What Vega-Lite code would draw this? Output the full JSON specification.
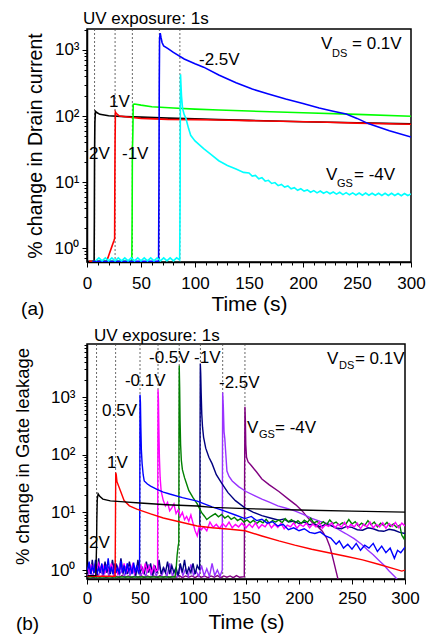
{
"$schema": "https://vega.github.io/schema/vega-lite/v6.json",
"padding": {"left": 12, "top": 8, "right": 0, "bottom": 0},
"config": {
  "font": "Liberation Sans",
  "view": {"stroke": "black", "strokeWidth": 1.5},
  "axis": {"grid": false, "domainColor": "black", "domainWidth": 1.5, "tickColor": "black", "tickWidth": 1, "labelColor": "black", "titleColor": "black", "titleFontWeight": "normal", "labelFont": "Liberation Sans", "titleFont": "Liberation Sans", "labelFontSize": 17, "labelOverlap": false, "labelFlush": false},
  "title": {"fontWeight": "normal", "fontSize": 17, "color": "black", "font": "Liberation Sans"}
},
"datasets": {
  "va": [{"t":7},{"t":26},{"t":42},{"t":67},{"t":86}],
  "vb": [{"t":9},{"t":27},{"t":50},{"t":67},{"t":87},{"t":107},{"t":128},{"t":149}],
  "ta": [
    {"t":103.7,"v":593,"label":"-2.5V"},
    {"t":20.4,"v":137,"label":"1V"},
    {"t":1.9,"v":22.3,"label":"2V"},
    {"t":32.4,"v":22.3,"label":"-1V"},
    {"t":216.7,"v":1035,"label":"V"},
    {"t":245.4,"v":1035,"label":"= 0.1V"},
    {"t":221.3,"v":10.7,"label":"V"},
    {"t":247.2,"v":10.7,"label":"= -4V"}
  ],
  "sa": [
    {"t":226.9,"v":783,"label":"DS"},
    {"t":231.5,"v":8.4,"label":"GS"}
  ],
  "pa": [{"t":-61,"v":0.0966,"label":"(a)"}],
  "tb": [
    {"t":124.5,"v":1432,"label":"-2.5V"},
    {"t":58.5,"v":3884,"label":"-0.5V"},
    {"t":101,"v":3884,"label":"-1V"},
    {"t":35.8,"v":1550,"label":"-0.1V"},
    {"t":14.2,"v":469,"label":"0.5V"},
    {"t":18.9,"v":58.7,"label":"1V"},
    {"t":1.9,"v":2.41,"label":"2V"},
    {"t":226.4,"v":3735,"label":"V"},
    {"t":252.8,"v":3735,"label":"= 0.1V"},
    {"t":151,"v":238,"label":"V"},
    {"t":177.4,"v":238,"label":"= -4V"}
  ],
  "sb": [
    {"t":237.7,"v":3055,"label":"DS"},
    {"t":162.3,"v":194.5,"label":"GS"}
  ],
  "pb": [{"t":-67,"v":0.091,"label":"(b)"}],
  "la": [
    {"s":"a_k","t":0.5,"v":0.63},{"s":"a_k","t":6.3,"v":0.63},{"s":"a_k","t":6.6,"v":0.66},{"s":"a_k","t":6.8,"v":2.5},{"s":"a_k","t":7,"v":25},{"s":"a_k","t":7.3,"v":80},{"s":"a_k","t":7.8,"v":118},{"s":"a_k","t":9,"v":113},{"s":"a_k","t":12,"v":106},{"s":"a_k","t":20,"v":101},{"s":"a_k","t":35,"v":98},{"s":"a_k","t":50,"v":96},{"s":"a_k","t":75,"v":93},{"s":"a_k","t":100,"v":91},{"s":"a_k","t":122,"v":88},{"s":"a_k","t":150,"v":86},{"s":"a_k","t":200,"v":82},{"s":"a_k","t":250,"v":79},{"s":"a_k","t":300,"v":76},
    {"s":"a_r","t":2,"v":0.63},{"s":"a_r","t":18,"v":0.63},{"s":"a_r","t":19.5,"v":0.72},{"s":"a_r","t":21,"v":0.85},{"s":"a_r","t":23,"v":1.05},{"s":"a_r","t":25,"v":1.3},{"s":"a_r","t":25.6,"v":1.4},{"s":"a_r","t":25.8,"v":12},{"s":"a_r","t":26,"v":40},{"s":"a_r","t":26.3,"v":115},{"s":"a_r","t":27,"v":110},{"s":"a_r","t":30,"v":100},{"s":"a_r","t":40,"v":96},{"s":"a_r","t":50,"v":92},{"s":"a_r","t":75,"v":89},{"s":"a_r","t":100,"v":88},{"s":"a_r","t":122,"v":87},{"s":"a_r","t":150,"v":85},{"s":"a_r","t":215,"v":81},{"s":"a_r","t":250,"v":78},{"s":"a_r","t":300,"v":75},
    {"s":"a_g","t":5,"v":0.63},{"s":"a_g","t":41.5,"v":0.63},{"s":"a_g","t":41.8,"v":3},{"s":"a_g","t":42,"v":30},{"s":"a_g","t":42.3,"v":42},{"s":"a_g","t":42.5,"v":60},{"s":"a_g","t":42.8,"v":150},{"s":"a_g","t":44,"v":152},{"s":"a_g","t":50,"v":146},{"s":"a_g","t":60,"v":138},{"s":"a_g","t":80,"v":132},{"s":"a_g","t":100,"v":127},{"s":"a_g","t":122,"v":123},{"s":"a_g","t":150,"v":119},{"s":"a_g","t":200,"v":112},{"s":"a_g","t":250,"v":106},{"s":"a_g","t":300,"v":99},
    {"s":"a_b","t":5,"v":0.63},{"s":"a_b","t":66.3,"v":0.63},{"s":"a_b","t":66.6,"v":8},{"s":"a_b","t":66.9,"v":300},{"s":"a_b","t":67.2,"v":1500},{"s":"a_b","t":67.8,"v":1800},{"s":"a_b","t":68.5,"v":1550},{"s":"a_b","t":69.5,"v":1300},{"s":"a_b","t":71,"v":1150},{"s":"a_b","t":75,"v":1050},{"s":"a_b","t":80,"v":920},{"s":"a_b","t":90,"v":730},{"s":"a_b","t":100,"v":620},{"s":"a_b","t":108,"v":550},{"s":"a_b","t":122,"v":418},{"s":"a_b","t":138,"v":320},{"s":"a_b","t":153,"v":256},{"s":"a_b","t":168,"v":215},{"s":"a_b","t":184,"v":181},{"s":"a_b","t":200,"v":155},{"s":"a_b","t":215,"v":132},{"s":"a_b","t":228,"v":118},{"s":"a_b","t":240,"v":107},{"s":"a_b","t":250,"v":92},{"s":"a_b","t":261,"v":76},{"s":"a_b","t":280,"v":60},{"s":"a_b","t":300,"v":48},
    {"s":"a_c","t":8,"v":0.64},{"s":"a_c","t":11,"v":0.71},{"s":"a_c","t":14,"v":0.64},{"s":"a_c","t":17,"v":0.71},{"s":"a_c","t":20,"v":0.64},{"s":"a_c","t":23,"v":0.71},{"s":"a_c","t":26,"v":0.64},{"s":"a_c","t":29,"v":0.71},{"s":"a_c","t":32,"v":0.64},{"s":"a_c","t":35,"v":0.71},{"s":"a_c","t":38,"v":0.64},{"s":"a_c","t":41,"v":0.71},{"s":"a_c","t":44,"v":0.64},{"s":"a_c","t":47,"v":0.71},{"s":"a_c","t":50,"v":0.64},{"s":"a_c","t":53,"v":0.71},{"s":"a_c","t":56,"v":0.64},{"s":"a_c","t":59,"v":0.71},{"s":"a_c","t":62,"v":0.64},{"s":"a_c","t":65,"v":0.71},{"s":"a_c","t":68,"v":0.64},{"s":"a_c","t":71,"v":0.71},{"s":"a_c","t":74,"v":0.64},{"s":"a_c","t":77,"v":0.71},{"s":"a_c","t":80,"v":0.64},{"s":"a_c","t":83,"v":0.71},{"s":"a_c","t":85.8,"v":0.66},
    {"s":"a_c","t":86.2,"v":5},{"s":"a_c","t":86.4,"v":100},{"s":"a_c","t":86.6,"v":430},{"s":"a_c","t":87,"v":300},{"s":"a_c","t":87.5,"v":200},{"s":"a_c","t":88.5,"v":130},{"s":"a_c","t":90,"v":105},{"s":"a_c","t":91.5,"v":93},{"s":"a_c","t":94,"v":65},{"s":"a_c","t":96,"v":51},{"s":"a_c","t":100,"v":42},{"s":"a_c","t":108,"v":32},{"s":"a_c","t":115,"v":26},{"s":"a_c","t":122,"v":21},{"s":"a_c","t":130,"v":17.8},{"s":"a_c","t":138,"v":15.7},{"s":"a_c","t":145,"v":14},{"s":"a_c","t":150,"v":13.7},{"s":"a_c","t":153,"v":12.3},{"s":"a_c","t":156,"v":12.6},{"s":"a_c","t":159,"v":11.2},{"s":"a_c","t":162,"v":11.6},{"s":"a_c","t":165,"v":10.3},{"s":"a_c","t":168,"v":10.6},{"s":"a_c","t":171,"v":9.5},{"s":"a_c","t":174,"v":9.8},{"s":"a_c","t":177,"v":8.8},{"s":"a_c","t":180,"v":9.2},{"s":"a_c","t":183,"v":8.4},{"s":"a_c","t":186,"v":8.7},{"s":"a_c","t":189,"v":7.9},{"s":"a_c","t":192,"v":8.2},{"s":"a_c","t":195,"v":7.5},{"s":"a_c","t":198,"v":7.9},{"s":"a_c","t":201,"v":7.3},{"s":"a_c","t":204,"v":7.6},{"s":"a_c","t":207,"v":7.0},{"s":"a_c","t":210,"v":7.4},{"s":"a_c","t":213,"v":6.85},{"s":"a_c","t":216,"v":7.3},{"s":"a_c","t":219,"v":6.75},{"s":"a_c","t":222,"v":7.15},{"s":"a_c","t":225,"v":6.65},{"s":"a_c","t":228,"v":7.05},{"s":"a_c","t":231,"v":6.55},{"s":"a_c","t":234,"v":7.0},{"s":"a_c","t":237,"v":6.45},{"s":"a_c","t":240,"v":6.9},{"s":"a_c","t":243,"v":6.4},{"s":"a_c","t":246,"v":6.85},{"s":"a_c","t":249,"v":6.35},{"s":"a_c","t":252,"v":6.8},{"s":"a_c","t":255,"v":6.3},{"s":"a_c","t":258,"v":6.8},{"s":"a_c","t":261,"v":6.3},{"s":"a_c","t":264,"v":6.75},{"s":"a_c","t":267,"v":6.3},{"s":"a_c","t":270,"v":6.75},{"s":"a_c","t":273,"v":6.25},{"s":"a_c","t":276,"v":6.75},{"s":"a_c","t":279,"v":6.25},{"s":"a_c","t":282,"v":6.75},{"s":"a_c","t":285,"v":6.25},{"s":"a_c","t":288,"v":6.7},{"s":"a_c","t":291,"v":6.2},{"s":"a_c","t":294,"v":6.7},{"s":"a_c","t":297,"v":6.25},{"s":"a_c","t":300,"v":6.6}
  ],
  "lb": [
    {"s":"b_d","t":0.5,"v":0.75},{"s":"b_d","t":3,"v":0.79},{"s":"b_d","t":6,"v":0.74},{"s":"b_d","t":9,"v":0.79},{"s":"b_d","t":12,"v":0.75},{"s":"b_d","t":15,"v":0.8},{"s":"b_d","t":18,"v":0.74},{"s":"b_d","t":21,"v":0.79},{"s":"b_d","t":24,"v":0.75},{"s":"b_d","t":27,"v":0.79},{"s":"b_d","t":30,"v":0.74},{"s":"b_d","t":33,"v":0.8},{"s":"b_d","t":36,"v":0.75},{"s":"b_d","t":39,"v":0.79},{"s":"b_d","t":42,"v":0.74},{"s":"b_d","t":45,"v":0.79},{"s":"b_d","t":48,"v":0.75},{"s":"b_d","t":51,"v":0.8},{"s":"b_d","t":54,"v":0.74},{"s":"b_d","t":57,"v":0.79},{"s":"b_d","t":60,"v":0.75},{"s":"b_d","t":63,"v":0.79},{"s":"b_d","t":66,"v":0.74},{"s":"b_d","t":69,"v":0.8},{"s":"b_d","t":72,"v":0.75},{"s":"b_d","t":75,"v":0.79},{"s":"b_d","t":78,"v":0.74},{"s":"b_d","t":81,"v":0.79},{"s":"b_d","t":84,"v":0.75},{"s":"b_d","t":87,"v":0.8},{"s":"b_d","t":90,"v":0.74},{"s":"b_d","t":93,"v":0.79},{"s":"b_d","t":96,"v":0.75},{"s":"b_d","t":99,"v":0.79},{"s":"b_d","t":102,"v":0.74},{"s":"b_d","t":105,"v":0.8},{"s":"b_d","t":108,"v":0.75},{"s":"b_d","t":111,"v":0.79},{"s":"b_d","t":114,"v":0.74},{"s":"b_d","t":117,"v":0.79},{"s":"b_d","t":120,"v":0.75},{"s":"b_d","t":123,"v":0.8},{"s":"b_d","t":126,"v":0.74},{"s":"b_d","t":129,"v":0.79},{"s":"b_d","t":132,"v":0.75},{"s":"b_d","t":135,"v":0.79},{"s":"b_d","t":138,"v":0.74},{"s":"b_d","t":141,"v":0.8},{"s":"b_d","t":144,"v":0.75},{"s":"b_d","t":148.4,"v":0.77},
    {"s":"b_d","t":148.7,"v":50},{"s":"b_d","t":149,"v":680},{"s":"b_d","t":149.4,"v":400},{"s":"b_d","t":149.8,"v":150},{"s":"b_d","t":150.5,"v":90},{"s":"b_d","t":152,"v":75},{"s":"b_d","t":155,"v":65},{"s":"b_d","t":160,"v":50},{"s":"b_d","t":165,"v":38},{"s":"b_d","t":172,"v":30},{"s":"b_d","t":181,"v":23},{"s":"b_d","t":190,"v":17},{"s":"b_d","t":197,"v":13.5},{"s":"b_d","t":203,"v":10.6},{"s":"b_d","t":208,"v":8.2},{"s":"b_d","t":213,"v":6.5},{"s":"b_d","t":218,"v":5.6},{"s":"b_d","t":222,"v":4.7},{"s":"b_d","t":226,"v":3.6},{"s":"b_d","t":229,"v":2.6},{"s":"b_d","t":231,"v":1.9},{"s":"b_d","t":233,"v":1.35},{"s":"b_d","t":235,"v":0.95},{"s":"b_d","t":236.5,"v":0.73},{"s":"b_d","t":237.5,"v":0.6},
    {"s":"b_p","t":0.5,"v":0.8},{"s":"b_p","t":3,"v":1.0},{"s":"b_p","t":5.5,"v":0.78},{"s":"b_p","t":8,"v":1.15},{"s":"b_p","t":10.5,"v":0.8},{"s":"b_p","t":13,"v":0.95},{"s":"b_p","t":15.5,"v":0.78},{"s":"b_p","t":18,"v":1.25},{"s":"b_p","t":20.5,"v":0.8},{"s":"b_p","t":23,"v":1.05},{"s":"b_p","t":25.5,"v":0.78},{"s":"b_p","t":28,"v":1.2},{"s":"b_p","t":30.5,"v":0.82},{"s":"b_p","t":33,"v":1.0},{"s":"b_p","t":35.5,"v":0.78},{"s":"b_p","t":38,"v":1.3},{"s":"b_p","t":40.5,"v":0.8},{"s":"b_p","t":43,"v":1.05},{"s":"b_p","t":45.5,"v":0.78},{"s":"b_p","t":48,"v":1.15},{"s":"b_p","t":50.5,"v":0.8},{"s":"b_p","t":53,"v":0.95},{"s":"b_p","t":55.5,"v":0.78},{"s":"b_p","t":58,"v":1.25},{"s":"b_p","t":60.5,"v":0.82},{"s":"b_p","t":63,"v":1.0},{"s":"b_p","t":65.5,"v":0.78},{"s":"b_p","t":68,"v":1.2},{"s":"b_p","t":70.5,"v":0.8},{"s":"b_p","t":73,"v":1.05},{"s":"b_p","t":75.5,"v":0.78},{"s":"b_p","t":78,"v":1.3},{"s":"b_p","t":80.5,"v":0.8},{"s":"b_p","t":83,"v":1.0},{"s":"b_p","t":85.5,"v":0.78},{"s":"b_p","t":88,"v":1.15},{"s":"b_p","t":90.5,"v":0.8},{"s":"b_p","t":93,"v":1.05},{"s":"b_p","t":95.5,"v":0.78},{"s":"b_p","t":98,"v":1.25},{"s":"b_p","t":100.5,"v":0.82},{"s":"b_p","t":103,"v":0.95},{"s":"b_p","t":105.5,"v":0.78},{"s":"b_p","t":108,"v":1.2},{"s":"b_p","t":110.5,"v":0.8},{"s":"b_p","t":113,"v":1.05},{"s":"b_p","t":115.5,"v":0.78},{"s":"b_p","t":118,"v":1.3},{"s":"b_p","t":120.5,"v":0.8},{"s":"b_p","t":123,"v":1.0},{"s":"b_p","t":125.5,"v":0.78},{"s":"b_p","t":127.6,"v":1.0},
    {"s":"b_p","t":127.8,"v":100},{"s":"b_p","t":128,"v":1200},{"s":"b_p","t":128.6,"v":700},{"s":"b_p","t":129.3,"v":250},{"s":"b_p","t":130,"v":190},{"s":"b_p","t":131,"v":100},{"s":"b_p","t":132,"v":52},{"s":"b_p","t":134,"v":42},{"s":"b_p","t":137,"v":35},{"s":"b_p","t":143,"v":28},{"s":"b_p","t":150,"v":23},{"s":"b_p","t":158,"v":19.5},{"s":"b_p","t":165,"v":17},{"s":"b_p","t":172,"v":15},{"s":"b_p","t":180,"v":13},{"s":"b_p","t":188,"v":11.8},{"s":"b_p","t":196,"v":10.6},{"s":"b_p","t":204,"v":9.2},{"s":"b_p","t":212,"v":7.9},{"s":"b_p","t":220,"v":7},{"s":"b_p","t":228,"v":6.3},{"s":"b_p","t":236,"v":5.2},{"s":"b_p","t":244,"v":4.3},{"s":"b_p","t":252,"v":3.5},{"s":"b_p","t":259,"v":2.8},{"s":"b_p","t":265,"v":2.2},{"s":"b_p","t":270,"v":1.85},{"s":"b_p","t":275,"v":1.5},{"s":"b_p","t":280,"v":1.22},{"s":"b_p","t":285,"v":0.96},{"s":"b_p","t":290,"v":0.78},{"s":"b_p","t":293,"v":0.68},
    {"s":"b_n","t":0.5,"v":0.9},{"s":"b_n","t":2,"v":1.3},{"s":"b_n","t":3.5,"v":0.85},{"s":"b_n","t":5,"v":1.5},{"s":"b_n","t":6.5,"v":0.9},{"s":"b_n","t":8,"v":1.1},{"s":"b_n","t":9.5,"v":0.8},{"s":"b_n","t":11,"v":1.6},{"s":"b_n","t":12.5,"v":0.9},{"s":"b_n","t":14,"v":1.2},{"s":"b_n","t":15.5,"v":0.85},{"s":"b_n","t":17,"v":1.4},{"s":"b_n","t":18.5,"v":0.9},{"s":"b_n","t":20,"v":1.1},{"s":"b_n","t":22,"v":0.85},{"s":"b_n","t":24,"v":1.5},{"s":"b_n","t":26,"v":0.9},{"s":"b_n","t":28,"v":1.2},{"s":"b_n","t":30,"v":0.85},{"s":"b_n","t":32,"v":1.6},{"s":"b_n","t":34,"v":0.9},{"s":"b_n","t":36,"v":1.1},{"s":"b_n","t":38,"v":0.85},{"s":"b_n","t":40,"v":1.4},{"s":"b_n","t":42,"v":0.9},{"s":"b_n","t":44,"v":1.2},{"s":"b_n","t":46,"v":0.8},{"s":"b_n","t":48,"v":1.5},{"s":"b_n","t":50,"v":0.9},{"s":"b_n","t":52,"v":1.1},{"s":"b_n","t":54,"v":0.85},{"s":"b_n","t":56,"v":1.4},{"s":"b_n","t":58,"v":0.9},{"s":"b_n","t":60,"v":1.3},{"s":"b_n","t":62,"v":0.8},{"s":"b_n","t":64,"v":1.2},{"s":"b_n","t":66,"v":0.9},{"s":"b_n","t":68,"v":1.5},{"s":"b_n","t":70,"v":0.85},{"s":"b_n","t":72,"v":1.1},{"s":"b_n","t":74,"v":0.9},{"s":"b_n","t":76,"v":1.4},{"s":"b_n","t":78,"v":0.85},{"s":"b_n","t":80,"v":1.2},{"s":"b_n","t":82,"v":0.9},{"s":"b_n","t":84,"v":1.1},{"s":"b_n","t":86,"v":0.8},{"s":"b_n","t":88,"v":1.3},{"s":"b_n","t":90,"v":0.9},{"s":"b_n","t":92,"v":1.5},{"s":"b_n","t":94,"v":0.85},{"s":"b_n","t":96,"v":1.1},{"s":"b_n","t":98,"v":0.9},{"s":"b_n","t":100,"v":1.3},{"s":"b_n","t":102,"v":0.85},{"s":"b_n","t":104,"v":1.2},{"s":"b_n","t":106.3,"v":1.0},
    {"s":"b_n","t":106.6,"v":100},{"s":"b_n","t":106.9,"v":3800},{"s":"b_n","t":107.3,"v":2500},{"s":"b_n","t":107.7,"v":1200},{"s":"b_n","t":108.3,"v":500},{"s":"b_n","t":109,"v":300},{"s":"b_n","t":110,"v":200},{"s":"b_n","t":112,"v":130},{"s":"b_n","t":115,"v":90},{"s":"b_n","t":118,"v":70},{"s":"b_n","t":122,"v":45},{"s":"b_n","t":127,"v":32},{"s":"b_n","t":133,"v":22},{"s":"b_n","t":140,"v":16},{"s":"b_n","t":149,"v":12},{"s":"b_n","t":157,"v":10},{"s":"b_n","t":165,"v":8.8},{"s":"b_n","t":173,"v":8},{"s":"b_n","t":181,"v":7.3},{"s":"b_n","t":186,"v":7.7},{"s":"b_n","t":190,"v":6.8},{"s":"b_n","t":195,"v":7.1},{"s":"b_n","t":200,"v":6.4},{"s":"b_n","t":205,"v":6.8},{"s":"b_n","t":210,"v":6.1},{"s":"b_n","t":215,"v":6.3},{"s":"b_n","t":220,"v":5.6},{"s":"b_n","t":225,"v":6.2},{"s":"b_n","t":230,"v":5.9},{"s":"b_n","t":235,"v":5.4},{"s":"b_n","t":240,"v":5.2},{"s":"b_n","t":245,"v":5.7},{"s":"b_n","t":250,"v":5.5},{"s":"b_n","t":255,"v":5.0},{"s":"b_n","t":260,"v":4.9},{"s":"b_n","t":265,"v":5.4},{"s":"b_n","t":270,"v":5.2},{"s":"b_n","t":275,"v":4.8},{"s":"b_n","t":280,"v":4.7},{"s":"b_n","t":285,"v":5.1},{"s":"b_n","t":290,"v":4.9},{"s":"b_n","t":295,"v":4.5},{"s":"b_n","t":300,"v":4.3},
    {"s":"b_g","t":0.5,"v":0.76},{"s":"b_g","t":83,"v":0.76},{"s":"b_g","t":84,"v":1.0},{"s":"b_g","t":85,"v":1.8},{"s":"b_g","t":86,"v":2.6},{"s":"b_g","t":86.6,"v":3.0},{"s":"b_g","t":86.8,"v":300},{"s":"b_g","t":87,"v":3500},{"s":"b_g","t":87.4,"v":1500},{"s":"b_g","t":87.8,"v":400},{"s":"b_g","t":88.3,"v":150},{"s":"b_g","t":89,"v":80},{"s":"b_g","t":90,"v":55},{"s":"b_g","t":92,"v":40},{"s":"b_g","t":94,"v":31},{"s":"b_g","t":96,"v":24},{"s":"b_g","t":100,"v":18},{"s":"b_g","t":104,"v":14},{"s":"b_g","t":108,"v":10},{"s":"b_g","t":111,"v":8.5},{"s":"b_g","t":113,"v":7.5},{"s":"b_g","t":116,"v":8.3},{"s":"b_g","t":118,"v":8.8},{"s":"b_g","t":121,"v":9.5},{"s":"b_g","t":124,"v":8.4},{"s":"b_g","t":127,"v":9.2},{"s":"b_g","t":130,"v":8},{"s":"b_g","t":133,"v":8.7},{"s":"b_g","t":136,"v":7.6},{"s":"b_g","t":139,"v":8.2},{"s":"b_g","t":142,"v":7.2},{"s":"b_g","t":145,"v":7.8},{"s":"b_g","t":148,"v":6.8},{"s":"b_g","t":151,"v":7.4},{"s":"b_g","t":154,"v":6.6},{"s":"b_g","t":157,"v":7.3},{"s":"b_g","t":160,"v":6.4},{"s":"b_g","t":163,"v":7.1},{"s":"b_g","t":166,"v":6.6},{"s":"b_g","t":169,"v":7.6},{"s":"b_g","t":172,"v":6.5},{"s":"b_g","t":175,"v":7.2},{"s":"b_g","t":178,"v":6.8},{"s":"b_g","t":181,"v":7.4},{"s":"b_g","t":184,"v":6.6},{"s":"b_g","t":187,"v":7.8},{"s":"b_g","t":190,"v":6.9},{"s":"b_g","t":193,"v":7.5},{"s":"b_g","t":196,"v":6.5},{"s":"b_g","t":199,"v":7.2},{"s":"b_g","t":202,"v":6.4},{"s":"b_g","t":205,"v":7.3},{"s":"b_g","t":208,"v":6.7},{"s":"b_g","t":211,"v":7.9},{"s":"b_g","t":214,"v":6.6},{"s":"b_g","t":217,"v":7.0},{"s":"b_g","t":220,"v":6.2},{"s":"b_g","t":223,"v":6.9},{"s":"b_g","t":226,"v":6.1},{"s":"b_g","t":229,"v":7.4},{"s":"b_g","t":232,"v":6.4},{"s":"b_g","t":235,"v":6.8},{"s":"b_g","t":238,"v":6.0},{"s":"b_g","t":241,"v":6.6},{"s":"b_g","t":244,"v":6.2},{"s":"b_g","t":247,"v":7.5},{"s":"b_g","t":250,"v":6.3},{"s":"b_g","t":253,"v":6.9},{"s":"b_g","t":256,"v":5.8},{"s":"b_g","t":259,"v":6.5},{"s":"b_g","t":262,"v":5.9},{"s":"b_g","t":265,"v":7.2},{"s":"b_g","t":268,"v":6.1},{"s":"b_g","t":271,"v":6.8},{"s":"b_g","t":274,"v":5.6},{"s":"b_g","t":277,"v":6.5},{"s":"b_g","t":280,"v":5.9},{"s":"b_g","t":283,"v":6.7},{"s":"b_g","t":286,"v":5.7},{"s":"b_g","t":289,"v":6.3},{"s":"b_g","t":292,"v":5.5},{"s":"b_g","t":295,"v":6.0},{"s":"b_g","t":297,"v":4.0},{"s":"b_g","t":299,"v":3.5},{"s":"b_g","t":300,"v":4.2},
    {"s":"b_m","t":0.5,"v":1.1},{"s":"b_m","t":2.5,"v":0.9},{"s":"b_m","t":4,"v":1.25},{"s":"b_m","t":5.5,"v":0.95},{"s":"b_m","t":7,"v":1.2},{"s":"b_m","t":9,"v":0.9},{"s":"b_m","t":11,"v":1.3},{"s":"b_m","t":13,"v":1.0},{"s":"b_m","t":15,"v":1.2},{"s":"b_m","t":17,"v":0.9},{"s":"b_m","t":19,"v":1.15},{"s":"b_m","t":21,"v":0.95},{"s":"b_m","t":23,"v":1.3},{"s":"b_m","t":25,"v":0.9},{"s":"b_m","t":27,"v":1.1},{"s":"b_m","t":29,"v":0.85},{"s":"b_m","t":31,"v":1.2},{"s":"b_m","t":33,"v":0.95},{"s":"b_m","t":35,"v":1.3},{"s":"b_m","t":37,"v":0.9},{"s":"b_m","t":39,"v":1.1},{"s":"b_m","t":41,"v":0.95},{"s":"b_m","t":43,"v":1.25},{"s":"b_m","t":45,"v":0.9},{"s":"b_m","t":47,"v":1.15},{"s":"b_m","t":49,"v":0.95},{"s":"b_m","t":51,"v":1.2},{"s":"b_m","t":53,"v":0.9},{"s":"b_m","t":55,"v":1.3},{"s":"b_m","t":57,"v":0.95},{"s":"b_m","t":59,"v":1.15},{"s":"b_m","t":61,"v":0.9},{"s":"b_m","t":63,"v":1.2},{"s":"b_m","t":65,"v":0.95},{"s":"b_m","t":66.6,"v":1.0},
    {"s":"b_m","t":66.8,"v":50},{"s":"b_m","t":67,"v":1350},{"s":"b_m","t":67.4,"v":900},{"s":"b_m","t":67.8,"v":300},{"s":"b_m","t":68.3,"v":90},{"s":"b_m","t":69,"v":40},{"s":"b_m","t":70,"v":23},{"s":"b_m","t":72,"v":16},{"s":"b_m","t":74,"v":13},{"s":"b_m","t":76,"v":15},{"s":"b_m","t":78,"v":10.6},{"s":"b_m","t":80,"v":12},{"s":"b_m","t":82,"v":14},{"s":"b_m","t":84,"v":9.5},{"s":"b_m","t":86,"v":11},{"s":"b_m","t":88,"v":8.5},{"s":"b_m","t":90,"v":10},{"s":"b_m","t":92,"v":7.5},{"s":"b_m","t":94,"v":8.5},{"s":"b_m","t":96,"v":7},{"s":"b_m","t":98,"v":9},{"s":"b_m","t":100,"v":6.5},{"s":"b_m","t":102,"v":4.8},{"s":"b_m","t":104,"v":3.9},{"s":"b_m","t":106,"v":5.8},{"s":"b_m","t":108,"v":5},{"s":"b_m","t":110,"v":5.6},{"s":"b_m","t":113,"v":4.8},{"s":"b_m","t":116,"v":6.8},{"s":"b_m","t":119,"v":5.5},{"s":"b_m","t":122,"v":6.2},{"s":"b_m","t":125,"v":5.3},{"s":"b_m","t":128,"v":6.4},{"s":"b_m","t":131,"v":5.6},{"s":"b_m","t":134,"v":6.8},{"s":"b_m","t":137,"v":5.4},{"s":"b_m","t":140,"v":6.2},{"s":"b_m","t":143,"v":5.6},{"s":"b_m","t":146,"v":6.5},{"s":"b_m","t":150,"v":5.4},{"s":"b_m","t":153,"v":6.3},{"s":"b_m","t":156,"v":5.5},{"s":"b_m","t":159,"v":6.6},{"s":"b_m","t":162,"v":5.3},{"s":"b_m","t":165,"v":6.1},{"s":"b_m","t":168,"v":5.6},{"s":"b_m","t":171,"v":6.7},{"s":"b_m","t":174,"v":5.4},{"s":"b_m","t":177,"v":6.2},{"s":"b_m","t":180,"v":5.5},{"s":"b_m","t":183,"v":6.5},{"s":"b_m","t":186,"v":5.2},{"s":"b_m","t":189,"v":6.0},{"s":"b_m","t":192,"v":5.6},{"s":"b_m","t":195,"v":6.6},{"s":"b_m","t":198,"v":5.3},{"s":"b_m","t":201,"v":6.2},{"s":"b_m","t":204,"v":5.7},{"s":"b_m","t":207,"v":6.5},{"s":"b_m","t":210,"v":5.4},{"s":"b_m","t":213,"v":6.3},{"s":"b_m","t":216,"v":5.6},{"s":"b_m","t":219,"v":6.8},{"s":"b_m","t":222,"v":5.3},{"s":"b_m","t":225,"v":6.1},{"s":"b_m","t":228,"v":5.7},{"s":"b_m","t":231,"v":6.6},{"s":"b_m","t":234,"v":5.4},{"s":"b_m","t":237,"v":6.3},{"s":"b_m","t":240,"v":5.5},{"s":"b_m","t":243,"v":6.7},{"s":"b_m","t":246,"v":5.3},{"s":"b_m","t":249,"v":6.2},{"s":"b_m","t":252,"v":5.6},{"s":"b_m","t":255,"v":6.5},{"s":"b_m","t":258,"v":5.2},{"s":"b_m","t":261,"v":6.3},{"s":"b_m","t":264,"v":5.6},{"s":"b_m","t":267,"v":6.8},{"s":"b_m","t":270,"v":5.4},{"s":"b_m","t":273,"v":6.2},{"s":"b_m","t":276,"v":5.6},{"s":"b_m","t":279,"v":6.6},{"s":"b_m","t":282,"v":5.3},{"s":"b_m","t":285,"v":6.4},{"s":"b_m","t":288,"v":5.7},{"s":"b_m","t":291,"v":6.7},{"s":"b_m","t":294,"v":5.4},{"s":"b_m","t":297,"v":6.5},{"s":"b_m","t":300,"v":5.8},
    {"s":"b_b","t":0.5,"v":1.0},{"s":"b_b","t":2,"v":1.4},{"s":"b_b","t":3.5,"v":0.85},{"s":"b_b","t":5,"v":1.2},{"s":"b_b","t":6.5,"v":0.9},{"s":"b_b","t":8,"v":1.5},{"s":"b_b","t":9.5,"v":0.85},{"s":"b_b","t":11,"v":1.1},{"s":"b_b","t":12.5,"v":0.9},{"s":"b_b","t":14,"v":1.3},{"s":"b_b","t":15.5,"v":0.85},{"s":"b_b","t":17,"v":1.2},{"s":"b_b","t":18.5,"v":0.95},{"s":"b_b","t":20,"v":1.6},{"s":"b_b","t":21.5,"v":0.9},{"s":"b_b","t":23,"v":1.15},{"s":"b_b","t":24.5,"v":0.85},{"s":"b_b","t":26,"v":1.3},{"s":"b_b","t":27.5,"v":0.9},{"s":"b_b","t":29,"v":1.1},{"s":"b_b","t":30.5,"v":0.85},{"s":"b_b","t":32,"v":1.45},{"s":"b_b","t":33.5,"v":0.9},{"s":"b_b","t":35,"v":1.2},{"s":"b_b","t":36.5,"v":0.85},{"s":"b_b","t":38,"v":1.3},{"s":"b_b","t":39.5,"v":0.95},{"s":"b_b","t":41,"v":1.15},{"s":"b_b","t":42.5,"v":0.85},{"s":"b_b","t":44,"v":1.35},{"s":"b_b","t":45.5,"v":0.9},{"s":"b_b","t":47,"v":1.2},{"s":"b_b","t":48.5,"v":0.9},{"s":"b_b","t":49.6,"v":1.0},
    {"s":"b_b","t":49.8,"v":20},{"s":"b_b","t":50,"v":1100},{"s":"b_b","t":50.4,"v":800},{"s":"b_b","t":50.8,"v":300},{"s":"b_b","t":51.3,"v":120},{"s":"b_b","t":52,"v":70},{"s":"b_b","t":53,"v":45},{"s":"b_b","t":54,"v":35},{"s":"b_b","t":57,"v":31},{"s":"b_b","t":60,"v":28.6},{"s":"b_b","t":66,"v":25},{"s":"b_b","t":72,"v":22.5},{"s":"b_b","t":78,"v":20.8},{"s":"b_b","t":90,"v":18},{"s":"b_b","t":104,"v":15.7},{"s":"b_b","t":118,"v":12.5},{"s":"b_b","t":130,"v":10.5},{"s":"b_b","t":140,"v":9},{"s":"b_b","t":149,"v":7.8},{"s":"b_b","t":155,"v":8.5},{"s":"b_b","t":160,"v":7.2},{"s":"b_b","t":165,"v":7.6},{"s":"b_b","t":170,"v":6.5},{"s":"b_b","t":175,"v":6.9},{"s":"b_b","t":180,"v":5.8},{"s":"b_b","t":185,"v":6.2},{"s":"b_b","t":190,"v":5},{"s":"b_b","t":195,"v":5.4},{"s":"b_b","t":200,"v":4.8},{"s":"b_b","t":205,"v":5.2},{"s":"b_b","t":210,"v":4.5},{"s":"b_b","t":215,"v":4.3},{"s":"b_b","t":220,"v":4.6},{"s":"b_b","t":225,"v":3.9},{"s":"b_b","t":230,"v":3.6},{"s":"b_b","t":235,"v":2.8},{"s":"b_b","t":238,"v":3.2},{"s":"b_b","t":242,"v":2.4},{"s":"b_b","t":246,"v":2.8},{"s":"b_b","t":250,"v":2.3},{"s":"b_b","t":254,"v":2.9},{"s":"b_b","t":258,"v":2.2},{"s":"b_b","t":262,"v":2.7},{"s":"b_b","t":266,"v":2.4},{"s":"b_b","t":270,"v":2.9},{"s":"b_b","t":274,"v":2.1},{"s":"b_b","t":278,"v":2.6},{"s":"b_b","t":282,"v":2.0},{"s":"b_b","t":286,"v":2.4},{"s":"b_b","t":290,"v":1.6},{"s":"b_b","t":293,"v":2.2},{"s":"b_b","t":296,"v":2.0},{"s":"b_b","t":300,"v":2.5},
    {"s":"b_r","t":0.5,"v":0.78},{"s":"b_r","t":26.5,"v":0.78},{"s":"b_r","t":26.8,"v":5},{"s":"b_r","t":27.1,"v":49},{"s":"b_r","t":27.6,"v":45},{"s":"b_r","t":28.3,"v":34},{"s":"b_r","t":30,"v":28},{"s":"b_r","t":35,"v":16},{"s":"b_r","t":40,"v":13},{"s":"b_r","t":47,"v":11.4},{"s":"b_r","t":60,"v":9.4},{"s":"b_r","t":72,"v":8},{"s":"b_r","t":88,"v":6.8},{"s":"b_r","t":104,"v":5.8},{"s":"b_r","t":118,"v":5.4},{"s":"b_r","t":135,"v":5.1},{"s":"b_r","t":149,"v":4.8},{"s":"b_r","t":165,"v":3.9},{"s":"b_r","t":181,"v":3.2},{"s":"b_r","t":196,"v":2.7},{"s":"b_r","t":212,"v":2.3},{"s":"b_r","t":228,"v":2.0},{"s":"b_r","t":243,"v":1.75},{"s":"b_r","t":260,"v":1.5},{"s":"b_r","t":275,"v":1.26},{"s":"b_r","t":290,"v":1.05},{"s":"b_r","t":297,"v":0.96},{"s":"b_r","t":300,"v":1.0},
    {"s":"b_k","t":0.5,"v":0.8},{"s":"b_k","t":8.3,"v":0.8},{"s":"b_k","t":8.6,"v":1.3},{"s":"b_k","t":9,"v":2.6},{"s":"b_k","t":9.3,"v":8},{"s":"b_k","t":9.7,"v":17},{"s":"b_k","t":10.5,"v":21},{"s":"b_k","t":12,"v":19},{"s":"b_k","t":15,"v":17},{"s":"b_k","t":22,"v":15.8},{"s":"b_k","t":35,"v":15.2},{"s":"b_k","t":50,"v":14.5},{"s":"b_k","t":75,"v":13.6},{"s":"b_k","t":104,"v":12.9},{"s":"b_k","t":118,"v":12.2},{"s":"b_k","t":150,"v":11.6},{"s":"b_k","t":200,"v":11},{"s":"b_k","t":250,"v":10.5},{"s":"b_k","t":300,"v":10.1}
  ]
},
"concat": [
  {
    "width": 324, "height": 233,
    "title": {"text": "UV exposure: 1s", "anchor": "start", "frame": "group", "dx": -4, "offset": -12, "baseline": "alphabetic"},
    "resolve": {"axis": {"x": "independent", "y": "independent"}},
    "layer": [
      {"data": {"name": "va"}, "mark": {"type": "rule", "strokeDash": [2, 2], "color": "#444444", "strokeWidth": 0.8},
       "encoding": {"x": {"field": "t", "type": "quantitative", "scale": {"domain": [0, 300], "nice": false},
         "axis": {"orient": "bottom", "values": [10,20,30,40,60,70,80,90,110,120,130,140,160,170,180,190,210,220,230,240,260,270,280,290], "labels": false, "domain": false, "title": null, "tickSize": 3}}}},
      {"data": {"name": "la"}, "mark": {"type": "line", "clip": true, "strokeWidth": 1.6},
       "encoding": {
         "x": {"field": "t", "type": "quantitative", "title": "Time (s)", "scale": {"domain": [0, 300], "nice": false},
               "axis": {"orient": "bottom", "values": [0,50,100,150,200,250,300], "tickSize": 5, "labelPadding": 8, "titlePadding": 2, "titleFontSize": 21}},
         "y": {"field": "v", "type": "quantitative", "title": "% change in Drain current", "scale": {"type": "log", "domain": [0.614, 2080], "nice": false},
               "axis": {"orient": "left", "values": [1,10,100,1000],
                        "labelExpr": "datum.value == 1 ? '10⁰' : datum.value == 10 ? '10¹' : datum.value == 100 ? '10²' : '10³'",
                        "tickSize": 5, "labelPadding": 3, "titlePadding": 9, "titleFontSize": 19.5}},
         "color": {"field": "s", "type": "nominal", "legend": null,
                   "scale": {"domain": ["a_k","a_r","a_g","a_b","a_c","b_k","b_r","b_b","b_m","b_g","b_n","b_p","b_d"],
                             "range": ["#000000","#FF0000","#00FF00","#0000FF","#00FFFF","#000000","#FF0000","#0000FF","#FF00FF","#008000","#000080","#9933FF","#800080"]}}
       }},
      {"data": {"name": "ta"}, "mark": {"type": "text", "align": "left", "baseline": "alphabetic", "fontSize": 17, "color": "black"},
       "encoding": {"x": {"field": "t", "type": "quantitative", "axis": null},
                    "y": {"field": "v", "type": "quantitative", "axis": {"orient": "left", "values": [0.7,0.8,0.9,2,3,4,5,6,7,8,9,20,30,40,50,60,70,80,90,200,300,400,500,600,700,800,900,2000], "labels": false, "domain": false, "title": null, "tickSize": 3}},
                    "text": {"field": "label"}}},
      {"data": {"name": "sa"}, "mark": {"type": "text", "align": "left", "baseline": "alphabetic", "fontSize": 11, "color": "black"},
       "encoding": {"x": {"field": "t", "type": "quantitative", "axis": null}, "y": {"field": "v", "type": "quantitative", "axis": null}, "text": {"field": "label"}}},
      {"data": {"name": "pa"}, "mark": {"type": "text", "align": "left", "baseline": "alphabetic", "fontSize": 19, "color": "black"},
       "encoding": {"x": {"field": "t", "type": "quantitative", "axis": null}, "y": {"field": "v", "type": "quantitative", "axis": null}, "text": {"field": "label"}}}
    ]
  },
  {
    "width": 318, "height": 235,
    "title": {"text": "UV exposure: 1s", "anchor": "start", "frame": "group", "dx": 7, "offset": -14, "baseline": "alphabetic"},
    "resolve": {"axis": {"x": "independent", "y": "independent"}},
    "layer": [
      {"data": {"name": "vb"}, "mark": {"type": "rule", "strokeDash": [2, 2], "color": "#444444", "strokeWidth": 0.8},
       "encoding": {"x": {"field": "t", "type": "quantitative", "scale": {"domain": [0, 300], "nice": false},
         "axis": {"orient": "bottom", "values": [10,20,30,40,60,70,80,90,110,120,130,140,160,170,180,190,210,220,230,240,260,270,280,290], "labels": false, "domain": false, "title": null, "tickSize": 3}}}},
      {"data": {"name": "lb"}, "mark": {"type": "line", "clip": true, "strokeWidth": 1.4},
       "encoding": {
         "x": {"field": "t", "type": "quantitative", "title": "Time (s)", "scale": {"domain": [0, 300], "nice": false},
               "axis": {"orient": "bottom", "values": [0,50,100,150,200,250,300], "tickSize": 5, "labelPadding": 6, "titlePadding": 5, "titleFontSize": 21}},
         "y": {"field": "v", "type": "quantitative", "title": "% change in Gate leakage", "scale": {"type": "log", "domain": [0.7, 8300], "nice": false},
               "axis": {"orient": "left", "values": [1,10,100,1000],
                        "labelExpr": "datum.value == 1 ? '10⁰' : datum.value == 10 ? '10¹' : datum.value == 100 ? '10²' : '10³'",
                        "tickSize": 5, "labelPadding": 7, "titlePadding": 18, "titleFontSize": 18.5, "titleY": 112}},
         "color": {"field": "s", "type": "nominal", "legend": null,
                   "scale": {"domain": ["a_k","a_r","a_g","a_b","a_c","b_k","b_r","b_b","b_m","b_g","b_n","b_p","b_d"],
                             "range": ["#000000","#FF0000","#00FF00","#0000FF","#00FFFF","#000000","#FF0000","#0000FF","#FF00FF","#008000","#000080","#9933FF","#800080"]}}
       }},
      {"data": {"name": "tb"}, "mark": {"type": "text", "align": "left", "baseline": "alphabetic", "fontSize": 17, "color": "black"},
       "encoding": {"x": {"field": "t", "type": "quantitative", "axis": null},
                    "y": {"field": "v", "type": "quantitative", "axis": {"orient": "left", "values": [0.8,0.9,2,3,4,5,6,7,8,9,20,30,40,50,60,70,80,90,200,300,400,500,600,700,800,900,2000,3000,4000,5000,6000,7000,8000], "labels": false, "domain": false, "title": null, "tickSize": 3}},
                    "text": {"field": "label"}}},
      {"data": {"name": "sb"}, "mark": {"type": "text", "align": "left", "baseline": "alphabetic", "fontSize": 11, "color": "black"},
       "encoding": {"x": {"field": "t", "type": "quantitative", "axis": null}, "y": {"field": "v", "type": "quantitative", "axis": null}, "text": {"field": "label"}}},
      {"data": {"name": "pb"}, "mark": {"type": "text", "align": "left", "baseline": "alphabetic", "fontSize": 19, "color": "black"},
       "encoding": {"x": {"field": "t", "type": "quantitative", "axis": null}, "y": {"field": "v", "type": "quantitative", "axis": null}, "text": {"field": "label"}}}
    ]
  }
],
"columns": 1,
"align": "none",
"spacing": 5,
"resolve": {"scale": {"color": "shared"}}
}
